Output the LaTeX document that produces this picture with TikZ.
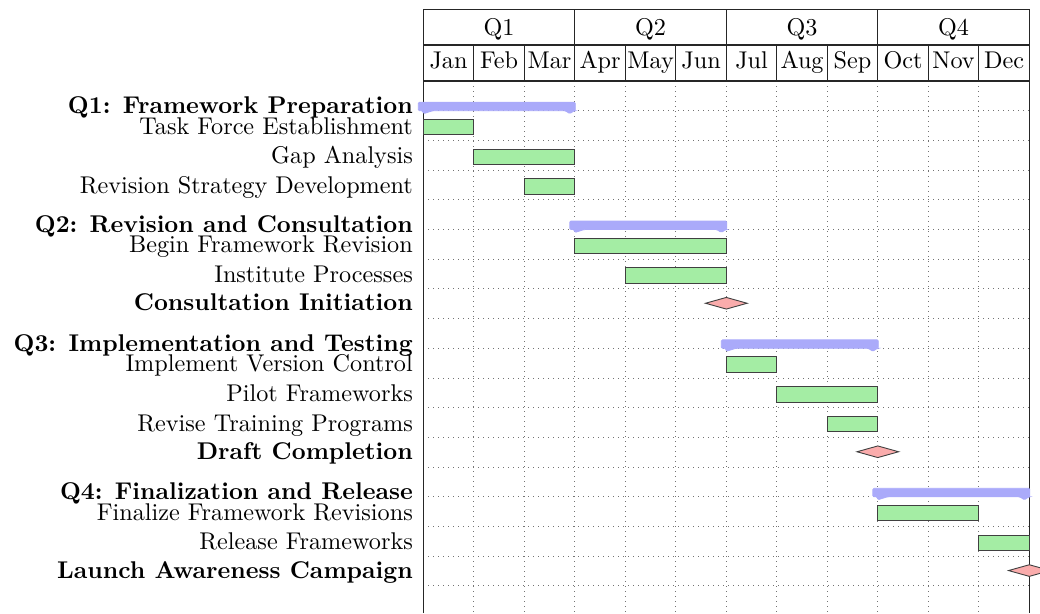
\documentclass[tikz,border=0pt]{standalone}
\usepackage{graphicx}
\usetikzlibrary{shapes.geometric}
\definecolor{grpblue}{RGB}{170,170,250}
\definecolor{barfill}{RGB}{164,237,164}
\definecolor{msfill}{RGB}{250,172,172}
% text is set at 10pt and enlarged, so the glyphs keep the 10pt design
\newcommand{\sclbl}[1]{\scalebox{2.42}{#1}}
\begin{document}
\begin{tikzpicture}[x=1pt,y=-1pt,
  frame/.style={line width=1.2pt, black!85},
  gridline/.style={line width=0.9pt, black!55, dash pattern=on 1pt off 4pt},
  taskbar/.style={fill=barfill, draw=black!75, line width=0.9pt},
  grpbar/.style={fill=grpblue, draw=grpblue, line width=0.8pt, rounded corners=1.2pt},
  milestone/.style={diamond, fill=msfill, draw=black!75, line width=0.9pt,
    minimum width=42pt, minimum height=12pt, inner sep=0pt},
  hdr/.style={anchor=base, inner sep=0pt},
  tasklbl/.style={anchor=base east, inner sep=0pt},
  grplbl/.style={anchor=base east, inner sep=0pt, font=\bfseries},
]
\useasboundingbox (0,0) rectangle (1040,613);
\def\mw{50.5}
\def\xo{423.3}
\def\xe{1029.3}
\def\rh{29.7}

% dotted grid of the chart area
\foreach \m in {1,...,11}
  \draw[gridline] ({\xo+\m*\mw},81) -- ({\xo+\m*\mw},613);
\foreach \k in {1,...,17}
  \draw[gridline] (\xo,{81+\k*\rh}) -- (\xe,{81+\k*\rh});

% header frame
\draw[frame] (\xo,613) -- (\xo,9.3) -- (\xe,9.3) -- (\xe,613);
\draw[frame] (\xo,45) -- (\xe,45);
\draw[frame] (\xo,81) -- (\xe,81);
\foreach \q in {1,2,3}
  \draw[frame] ({\xo+3*\q*\mw},9.3) -- ({\xo+3*\q*\mw},81);
\foreach \m in {1,...,11}
  \draw[frame] ({\xo+\m*\mw},45) -- ({\xo+\m*\mw},81);

% quarter and month titles
\foreach \q in {1,2,3,4}
  \node[hdr] (quarter\q) at ({\xo+(3*\q-1.5)*\mw},35) {\sclbl{Q\q}};
\foreach \m/\nm in {0/Jan,1/Feb,2/Mar,3/Apr,4/May,5/Jun,6/Jul,7/Aug,8/Sep,9/Oct,10/Nov,11/Dec}
  \node[hdr] (month\m) at ({\xo+(\m+0.5)*\mw},68.5) {\sclbl{\nm}};

% group bars with their peaks
\foreach \r/\a/\b/\t in {1/0/3/Q1: Framework Preparation,
                         5/3/6/Q2: Revision and Consultation,
                         9/6/9/Q3: Implementation and Testing,
                         14/9/12/Q4: Finalization and Release}{
  \pgfmathsetmacro\yb{81+\r*\rh}
  \pgfmathsetmacro\xa{\xo+\a*\mw}
  \pgfmathsetmacro\xb{\xo+\b*\mw}
  \filldraw[grpbar] ({\xa-5},{\yb-8.5}) -- ({\xb+0.5},{\yb-8.5}) -- ({\xb+0.5},\yb)
    -- ({\xb-0.5},\yb) -- ({\xb-5},{\yb+3}) -- ({\xb-9.5},\yb)
    -- ({\xa+9.5},\yb) -- (\xa,{\yb+3}) -- ({\xa-0.5},\yb) -- ({\xa-5},\yb) -- cycle;
  \node[grplbl] (group\r) at (413,{\yb+3}) {\sclbl{\t}};
}

% task bars
\foreach \r/\a/\b/\t in {2/0/1/Task Force Establishment,
                         3/1/3/Gap Analysis,
                         4/2/3/Revision Strategy Development,
                         6/3/6/Begin Framework Revision,
                         7/4/6/Institute Processes,
                         10/6/7/Implement Version Control,
                         11/7/9/Pilot Frameworks,
                         12/8/9/Revise Training Programs,
                         15/9/11/Finalize Framework Revisions,
                         16/11/12/Release Frameworks}{
  \pgfmathsetmacro\yt{81+(\r-1)*\rh}
  \pgfmathsetmacro\xa{\xo+\a*\mw}
  \pgfmathsetmacro\xb{\xo+\b*\mw}
  \draw[taskbar] (\xa,{\yt+8.6}) rectangle (\xb,{\yt+24});
  \node[tasklbl] (task\r) at (413,{\yt+\rh/2+8.5}) {\sclbl{\t}};
}

% milestones
\foreach \r/\m/\t in {8/6/Consultation Initiation,
                      13/9/Draft Completion,
                      17/12/Launch Awareness Campaign}{
  \pgfmathsetmacro\yc{81+(\r-0.5)*\rh-0.5}
  \node[milestone] (mile\r) at ({\xo+\m*\mw},\yc) {};
  \node[grplbl] (milelbl\r) at (413,{\yc+7.5}) {\sclbl{\t}};
}
\end{tikzpicture}
\end{document}
